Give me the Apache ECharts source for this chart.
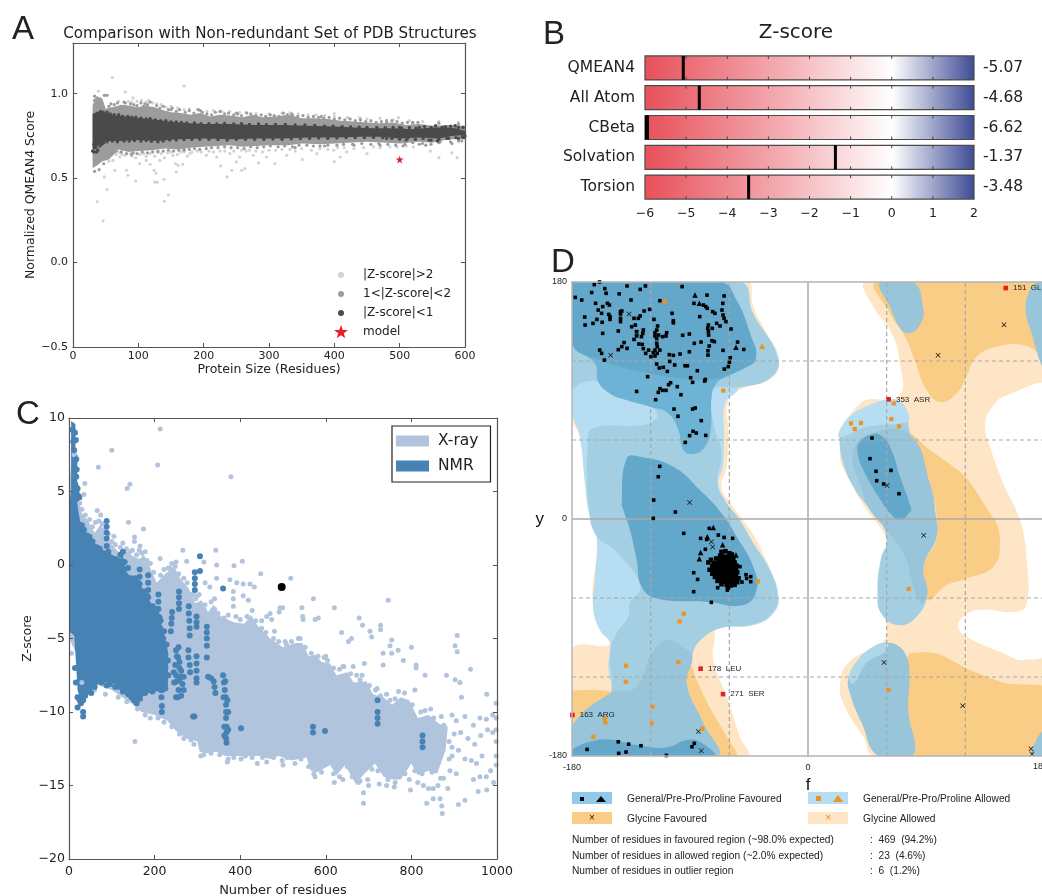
<!DOCTYPE html>
<html><head><meta charset="utf-8"><style>html,body{margin:0;padding:0;background:#fff;overflow:hidden}#c{width:1042px;height:896px}</style>
<script src="https://cdn.jsdelivr.net/npm/echarts@6/dist/echarts.min.js"></script></head><body><div id="c"></div>
<script>
// ---------- Panel A data ----------
const aLight=[[60,1.095],[170,1.045],[39,1.015],[80,1.01],[92,.975],[46,.247],[37,.36],[140,.363],[146,.4],[52,.432],[48,.507],[96,.483],[82,.546],[84,.517],[125,.477],[129,.475],[139.5,.493],[118,.582],[124,.546],[127,.53],[158,.537],[161,.576],[157,.586],[168,.582],[226,.572],[236,.507],[243,.546],[258,.546],[263,.556],[250,.596],[284,.59],[309,.586],[351,.61],[400,.598],[409,.625],[560,.621],[580,.649],[588,.621],[547,.66],[498,.858],[400,.882],[332,.886],[424,.852],[439,.858],[64,.546],[61,.605],[71.5,.625],[102,.586],[112,.605],[133,.605],[153,.635],[179,.645],[204,.635],[220,.625],[255,.625],[276,.635],[296,.625],[327,.635],[373,.645],[399,.665],[419,.655],[450,.645],[496,.684],[521,.684],[75,.64],[90,.63],[108,.645],[125,.63],[145,.65],[170,.655],[190,.66],[215,.655],[240,.645],[265,.66],[290,.655],[310,.665],[340,.66],[365,.665],[390,.67],[430,.675],[470,.68],[55,.6],[68,.66],[105,.96],[122,.945],[85,.955],[135,.935],[160,.915],[190,.905],[228,.895],[265,.89],[300,.88],[360,.875],[385,.87],[470,.855],[515,.84],[560,.835],[590,.83],
[66,.64],[72,.65],[80,.635],[88,.645],[96,.62],[102,.64],[112,.63],[118,.645],[135,.645],[140,.62],[150,.655],[160,.64],[165,.655],[175,.63],[182,.655],[196,.655],[208,.66],[225,.66],[232,.66],[246,.66],[258,.665],[270,.665],[280,.66],[300,.665],[320,.67],[332,.67],[350,.675],[378,.675],[405,.68],[415,.68],[445,.68],[460,.685],[485,.685],[510,.69],
[70,.955],[90,.95],[98,.955],[112,.95],[116,.96],[128,.94],[142,.92],[150,.925],[170,.905],[178,.91],[205,.895],[215,.9],[240,.895],[255,.89],[280,.885],[320,.885],[345,.88],[372,.875],[400,.865],[420,.86],[450,.85],[490,.845],[535,.835]];
const aMid=[[33,.54],[36,.6],[40,.55],[44,.62],[47,.585],[52,.66],[33,.985],[37,.975],[48,.99],[52,.99],[41,.97],[530,.70],[540,.695],[560,.71],[580,.705],[595,.72],[505,.69],[470,.695],[430,.695],[385,.69],[340,.68],[590,.82],[560,.825],[520,.83],[480,.84],[440,.845],[380,.865],[335,.88],[250,.885],[195,.9],[150,.905],[110,.94],[80,.945],[35,.64],[45,.655],[60,.65],[90,.64],[130,.655],[170,.665],
[33,.96],[38,.94],[43,.95],[55,.925],[58,.94],[63,.935],[68,.945],[73,.925],[78,.95],[88,.94],[93,.935],[98,.93],[104,.945],[108,.925],[114,.935],[118,.95],[128,.93],[133,.915],[138,.925],[146,.905],[152,.915],[158,.895],[163,.905],[172,.89],[178,.9],[185,.885],[192,.905],[198,.89],[205,.88],[212,.875],[218,.89],[225,.895],[232,.88],[238,.885],[246,.875],[252,.88],[258,.87],[266,.885],[272,.88],[280,.87],[288,.875],[295,.865],[302,.875],[308,.87],[315,.865],[322,.885],[328,.875],[336,.87],[344,.865],[352,.87],[360,.86],[368,.865],[376,.86],[384,.855],[392,.86],[400,.85],[408,.855],[416,.845],[424,.85],[432,.84],[440,.845],[448,.835],[456,.84],[464,.83],[472,.835],[480,.83],[488,.84],[496,.835],[504,.825],[512,.83],[520,.825],[528,.83],
[36,.59],[42,.62],[48,.63],[58,.64],[66,.66],[74,.655],[82,.645],[92,.65],[98,.645],[106,.655],[114,.65],[122,.655],[130,.66],[138,.66],[146,.665],[154,.66],[162,.665],[170,.67],[178,.67],[186,.675],[194,.67],[204,.675],[212,.68],[222,.68],[232,.685],[242,.68],[252,.68],[262,.675],[272,.685],[282,.68],[292,.685],[302,.69],[314,.685],[324,.69],[336,.685],[346,.695],[358,.695],[368,.69],[378,.69],[390,.695],[404,.695],[414,.7],[428,.7],[442,.705],[456,.7],[468,.705],[482,.7],[494,.695],[508,.7],[520,.71],[535,.705],[548,.7],[562,.715],[578,.715],[590,.72]];
const aDark=[[30,.66],[32,.7],[35,.68],[38,.665],[41,.69],[44,.7],[47,.71],[33,.75],[37,.725],[42,.72],[32,.655],[36,.655],[545,.725],[560,.73],[575,.735],[590,.735],[598,.74],[510,.725],[480,.735],[555,.81],[570,.805],[585,.81],[597,.8],[530,.8],[500,.8],
[33,.875],[37,.885],[42,.895],[46,.89],[52,.89],[57,.88],[63,.875],[70,.875],[76,.865],[84,.865],[90,.86],[96,.86],[104,.855],[112,.85],[118,.852],[126,.845],[134,.84],[142,.84],[150,.833],[158,.832],[166,.83],[174,.826],[186,.826],[196,.822],[208,.822],[220,.82],[232,.823],[246,.82],[258,.822],[270,.818],[284,.82],[296,.816],[310,.818],[325,.818],[340,.815],[355,.815],[370,.812],[385,.808],[398,.808],[412,.805],[425,.803],[438,.802],[450,.8],[465,.8],[478,.798],[490,.8],[503,.795],[515,.798],[525,.795],[538,.805],[548,.8],[565,.8],[578,.808],[590,.8],
[33,.71],[39,.705],[45,.715],[52,.715],[60,.72],[68,.715],[78,.72],[86,.72],[94,.722],[104,.72],[112,.722],[120,.718],[130,.715],[138,.72],[148,.725],[158,.725],[170,.728],[182,.73],[194,.73],[208,.73],[222,.728],[236,.725],[250,.73],[264,.73],[278,.73],[292,.73],[306,.732],[320,.73],[334,.733],[348,.735],[362,.735],[376,.737],[390,.735],[404,.738],[418,.74],[432,.74],[446,.74],[460,.742],[474,.74],[488,.735],[500,.73],[512,.735],[524,.73],[536,.735],[548,.725],[558,.72],[572,.735],[586,.74],[596,.745],[600,.75]];
const aMidUpper=[[30,.93],[35,.98],[45,.97],[50,.91],[60,.92],[75,.935],[85,.93],[100,.92],[110,.93],[125,.92],[140,.9],[150,.89],[165,.885],[180,.875],[195,.885],[210,.865],[225,.875],[240,.87],[260,.86],[275,.875],[290,.86],[310,.865],[330,.875],[350,.855],[370,.855],[390,.85],[410,.84],[430,.835],[450,.83],[470,.825],[490,.83],[510,.815],[530,.82],[550,.81],[575,.815],[600,.81]];
const aMidLower=[[600,.73],[575,.73],[550,.71],[530,.715],[500,.705],[480,.71],[450,.715],[420,.71],[400,.705],[380,.70],[350,.705],[330,.695],[300,.695],[280,.69],[260,.685],[240,.695],[220,.69],[200,.685],[180,.68],[160,.67],[140,.675],[120,.665],[100,.66],[85,.655],[70,.67],[55,.61],[45,.60],[35,.57],[30,.56]];
const aDarkUpper=[[30,.88],[40,.89],[50,.885],[60,.875],[80,.865],[100,.855],[120,.848],[140,.838],[160,.83],[180,.825],[200,.82],[240,.82],[280,.815],[320,.815],[360,.81],[400,.805],[430,.80],[460,.795],[490,.795],[520,.79],[550,.80],[580,.80],[600,.78]];
const aDarkLower=[[600,.755],[580,.75],[560,.735],[530,.74],[500,.735],[470,.745],[440,.745],[400,.74],[360,.74],[320,.735],[280,.735],[240,.73],[200,.735],[160,.73],[130,.72],[100,.725],[70,.72],[50,.72],[40,.70],[30,.66]];
const aModel=[[500,.61]];
const aNames=['|Z-score|>2','1<|Z-score|<2','|Z-score|<1','model'];
// ---------- Panel B data ----------
const bCategories=['QMEAN4','All Atom','CBeta','Solvation','Torsion'];
const bScores=[-5.07,-4.68,-6.62,-1.37,-3.48];
const bScoreLabels=['-5.07','-4.68','-6.62','-1.37','-3.48'];
// ---------- Panel C data ----------
const cXrayCloud=[[0,5],[8,8],[15,6.5],[22,4.5],[30,3.5],[45,3],[60,2.2],[75,2.8],[85,1.8],[100,1.4],[115,.9],[130,1],[150,.6],[165,.4],[175,.7],[190,-.2],[205,-1.2],[225,-.6],[245,-.1],[262,-1],[280,-1.6],[295,-2.6],[310,-2.4],[325,-3.2],[338,-2.7],[355,-3.5],[385,-3.9],[410,-4],[425,-3.4],[440,-4.1],[470,-5],[500,-5.6],[530,-5.3],[545,-5.3],[560,-6.2],[575,-6.1],[590,-6.6],[610,-6.7],[625,-7.5],[650,-7.3],[665,-8],[695,-7.9],[710,-8.8],[735,-9],[755,-9.5],[775,-9],[795,-9.2],[815,-10.4],[840,-10.2],[865,-10.8],[885,-11],[880,-12.6],[860,-14.2],[840,-14],[815,-14.3],[800,-13.5],[775,-14.6],[755,-14.6],[735,-14.4],[715,-13.5],[690,-14.2],[670,-14.9],[645,-13.6],[625,-14.3],[610,-13.6],[580,-14.1],[565,-14],[555,-13.1],[520,-13.3],[490,-13],[470,-13.2],[445,-13],[420,-13],[395,-13],[365,-13],[345,-12.7],[320,-12.8],[305,-12.7],[300,-12],[275,-11.8],[250,-11.3],[230,-10.6],[200,-10.2],[170,-10],[150,-9.5],[100,-8.5],[50,-8],[0,-5]];
const cNmrCloud=[[5,9.8],[15,9.6],[15,7.6],[20,7.5],[19,5.7],[24,5.3],[25,4.5],[20,4],[26,3],[40,2.2],[60,1.5],[80,1],[100,.7],[120,.4],[125,.7],[135,-.5],[150,-1],[170,-1.5],[190,-2.5],[210,-3.5],[225,-5],[232,-6],[231,-8.3],[200,-8.4],[170,-9],[160,-9.2],[130,-8.5],[100,-8],[70,-8],[55,-8.5],[40,-8.6],[30,-9.5],[20,-8.5],[15,-6],[12,-4.8],[0,-4.5],[0,4],[5,5]];
const cXrayPoints=[[213,9.25],[100,7.8],[207,6.8],[68.5,6.65],[378.5,6],[37,5.55],[142.5,5.5],[136,5.2],[35,4.8],[66,3.7],[139,2.9],[174,2.45],[105,1.95],[153,1.9],[153,1.6],[166,1.3],[213,.45],[266,1],[343,1],[405,.25],[385.5,-.05],[345,0],[315,.2],[275,.25],[448,-.6],[518,-.9],[318,-1.2],[345,-.9],[376,-1],[392,-1.2],[407,-1.3],[423,-1.3],[433,-1.5],[329,-1.5],[384,-1.8],[384,-2.3],[384,-2.8],[407,-2.1],[419,-2.4],[571,-2.3],[620,-2.9],[746,-2.4],[544,-2.9],[547,-3.7],[575,-3.7],[493,-2.9],[499,-2.9],[470,-3.3],[462,-3.5],[473.5,-3.7],[491,-3.2],[546,-3.5],[582.5,-3.6],[678,-3.6],[686,-4.1],[728,-4.1],[728,-4.4],[703,-4.5],[707,-4.9],[637,-4.6],[653,-5.2],[660,-5],[754,-5.1],[750,-5.5],[769,-5.8],[800,-5.6],[907,-4.8],[902,-5.5],[907,-5.9],[734,-6],[754,-6],[781,-6.5],[811,-6.8],[811,-7],[938,-7.1],[882,-7.5],[832,-7.5],[902,-7.8],[913.5,-8],[976,-8.8],[917,-9],[808,-8.5],[154,-12],[690,-6.7],[734,-6.8],[664,-6.9],[688,-16.2],[688,-15.5],[676,-14.8],[742,-15],[798,-15.3],[828,-15],[836,-16.2],[851,-15.9],[872,-16.9],[871,-16.4],[867,-15.9],[851,-15.2],[910,-16.3],[925,-16],[956,-15.4],[976,-15.3],[992,-14.8],
[895,-10.2],[905,-10.6],[925,-10.3],[945,-10.9],[960,-10.4],[975,-10.5],[990,-10.2],[998,-9.4],[998,-10.4],[998,-11.2],[998,-12],[998,-13],[998,-13.6],[990,-11.4],[978,-11.2],[962,-11.6],[948,-12.2],[932,-11.8],[915,-11.4],[900,-11.5],[888,-12],[895,-13],[910,-12.6],[925,-13.2],[940,-13.3],[952,-13.5],[965,-13],[975,-14.4],[985,-14],[960,-14.4],[945,-14.6],[905,-14.2],[890,-14],[875,-14.5],[885,-15.2],[862,-15],[840,-15.2],[815,-14.8],[795,-14.6],[760,-15.1],[725,-14.9],[700,-15],[640,-14.6],[620,-14.8],[575,-14.4],[440,-13.5],[370,-13.4],[500,-13.6],
[540,-5],[505,-5.2],[480,-4.5],[450,-3.8],[600,-6.2],[640,-6.9],[685,-7.5],[720,-8.4],[770,-8.6],[845,-9.8],[870,-10.3],[250,.2],[235,-.2],[290,-2],[300,-2.1],[340,-2.3],
[12,7.5],[16,6],[25,4.2],[30,3.8],[38,3.4],[48,3.1],[55,2.6],[62,2.9],[70,3],[74,3.4],[78,2.8],[82,2.4],[92,2.1],[100,1.6],[108,1.4],[120,1.2],[126,1.5],[134,1.1],[142,.9],[148,1],[158,.7],[164,1],[170,.8],[178,.9],[182,.3],[190,.1],[198,-.5],[214,-.7],[222,-.3],[232,-.2],[240,.1],[248,-.1],[256,-.6],[268,-.9],[276,-1.2],[288,-2],[296,-2.3],[304,-2],[318,-2.7],[332,-2.5],[340,-3],[348,-3.3],[362,-3.6],[372,-3.4],[390,-3.5],[400,-3.7],[416,-3.5],[428,-3.1],[436,-3.8],[450,-4.3],[460,-4.6],[478,-5],[490,-5.2],[508,-5.4],[520,-5.2],[536,-5],[552,-5.6],[566,-6],[582,-6.2],[596,-6.3],[604,-6.5],[618,-7],[632,-7.1],[642,-6.9],[658,-7.4],[672,-7.5],[680,-7.8],[702,-8.2],[716,-8.5],[728,-8.9],[742,-8.8],[750,-9.2],[762,-9.1],[784,-8.7],[802,-9.5],[822,-10],[832,-9.9],[852,-10.4],[876,-10.9],
[6,-6],[30,-8],[60,-8.5],[85,-8.8],[115,-9],[135,-9.3],[160,-9.8],[178,-10.2],[190,-10.4],[208,-10.4],[222,-10.7],[240,-11],[258,-11.5],[268,-11.8],[285,-11.9],[292,-12.2],[308,-13],[315,-12.9],[332,-12.8],[352,-12.9],[372,-13.2],[385,-13.1],[402,-13.2],[412,-13],[428,-13.1],[452,-13.1],[462,-13.4],[478,-13.1],[498,-13.3],[510,-13.1],[528,-13.5],[542,-13.2],[560,-13.7],[572,-14.2],[590,-14.1],[602,-13.5],[618,-14.2],[632,-14.4],[650,-13.7],[662,-14.4],[680,-14.7],[698,-14.6],[708,-13.9],[722,-14],[745,-14.6],[762,-14.8],[785,-14.2],[808,-14],[825,-14.2],[848,-14.1],[868,-14.5],[888,-13.2],[895,-12.4]];
const cNmrPoints=[[88,3],[88,2.6],[88,2.2],[88,1.8],[88,1.3],[165,-.3],[165,-.8],[165,-1.3],[165,-1.8],[185,-.7],[185,-1.2],[185,-1.7],[185,-2.2],[209,-2],[209,-2.5],[209,-3],[209,-3.5],[209,-4],[241,-3.2],[240,-3.6],[239,-4],[238,-4.5],[257,-1.8],[257,-2.2],[257,-2.6],[257,-3],[294,-.5],[294,-.9],[294,-1.3],[294,-1.7],[280,-2.8],[280,-3.3],[281,-3.8],[282,-4.3],[282,-4.8],[298,-3.5],[298,-3.9],[298,-4.2],[322,-4.2],[322,-4.6],[322,-5],[322,-5.5],[322,-6.3],[250,-5.8],[255,-6.3],[248,-6.8],[258,-7],[245,-7.3],[262,-7.6],[252,-7.9],[265,-8.1],[256,-8.5],[262,-8.9],[250,-9],[279,-5.8],[279,-6.3],[282,-6.8],[283,-7.3],[298,-6.2],[298,-6.7],[298,-7.2],[298,-7.7],[298,-8],[325,-7.6],[332,-7.7],[338,-7.9],[340,-8.3],[342,-8.7],[360,-7.5],[362,-8],[364,-8.5],[366,-9],[367,-9.5],[367,-10],[367,-10.4],[368,-11],[368,-11.4],[367,-11.8],[368,-12.1],[290,-10.3],[293,-10.3],[402,-11.1],[570,-11],[570,-11.4],[598,-11.3],[721,-10],[721,-10.4],[721,-10.8],[721,-9.2],[826,-11.6],[826,-12],[826,-12.4],[360,-1.6],[216,-4.5],[216,-5.5],[216,-7],[216,-8],[216,-9],[217,-9.6],[217,-10],[33,-10],[33,-10.3],[20,-9.7],[306,.6],[306,-.4],
[252,-6.2],[258,-6.6],[262,-7.2],[250,-7.5],[258,-7.8],[268,-7.6],[246,-8],[268,-8.5],[254,-9],[256,-5.6],[207,-3],[212,-3.6],[213,-4.3],[220,-5],[225,-7],[218,-8.5],[361,-9],[370,-9.2],[372,-10],[372,-11.2],[363,-11],[363,-11.6],[365,-7.9],
[8,9.2],[10,8.4],[12,7.8],[14,9],[16,8.5],[17,7.2],[18,6.5],[17,6],[14,5.5],[20,5.2],[22,4.7],[24,4.6],[30,2.7],[35,2.4],[42,2],[48,1.9],[55,1.6],[65,1.2],[72,1.1],[85,.8],[92,.9],[98,.5],[108,.4],[114,.3],[120,.7],[126,.9],[130,.2],[138,-.2],[145,-.9],[155,-.9],[162,-1.2],[175,-1.8],[182,-2.1],[196,-2.8],[204,-3.3],[214,-3.8],[222,-4.5],[228,-5.4],[231,-6.5],[232,-7.5],
[14,-7],[16,-8],[20,-9],[25,-9.2],[28,-9.4],[33,-9.2],[38,-8.9],[46,-8.6],[52,-8.7],[60,-8.3],[66,-7.9],[76,-8],[88,-8.2],[96,-8.1],[108,-8.3],[118,-8.3],[126,-8.6],[138,-8.8],[146,-9],[152,-9.2],[158,-9.4],[166,-9.1],[178,-8.7],[186,-8.5],[195,-8.6],[205,-8.4],[215,-8.5],[225,-8.4]];
const cModel=[[497,-1.5]];
// ---------- Panel D data (phi, psi outlines of the Ramachandran regions) ----------
const rGlyAllowedLeft=[[-46.8,180],[-41.7,161],[-31.5,141],[-22.4,123],[-26.5,108],[-52,98],[-60.8,90.4],[-60.8,62.5],[-62,39.7],[-66,24.5],[-59,11.9],[-50.6,.5],[-36.6,-21],[-22.6,-59],[-26.5,-71.7],[-41.7,-80.6],[-69.7,-83],[-71,-90.7],[-72.2,-107],[-62,-135],[-51.9,-165.4],[-46.8,-180],[-180,-180],[-180,-99.5],[-151,-94.5],[-163.7,-69],[-161,-13.5],[-167.5,6.8],[-170,27],[-174,62],[-180,82.8]];
const rGlyFavLeftA=[[-180,-131],[-151,-131],[-140,-160],[-180,-165]];
const rGlyFavLeftB=[[-90,-110],[-85,-122],[-75,-143],[-62,-165],[-54,-180],[-75,-180],[-95,-125]];
const rAllowedMain=[[-51.9,180],[-41.7,156],[-22.6,122],[-29,106.8],[-52,100],[-54.4,96.7],[-63.3,87.8],[-64,62.5],[-65,39.7],[-68.4,27],[-62,11.9],[-53,.5],[-41.7,-18.5],[-29,-38.8],[-22.6,-59],[-26.5,-71.7],[-41.7,-80.6],[-67.1,-83],[-82.4,-92],[-88,-102],[-90,-112],[-93,-125],[-80,-155],[-70,-180],[-180,-180],[-180,-157.8],[-166.3,-145.1],[-151,-133.7],[-152.3,-112.2],[-151,-94.5],[-158.6,-84.4],[-163.7,-69.2],[-162.5,-43.8],[-161.2,-13.5],[-167.5,6.8],[-170,27],[-174,62.5],[-180,82.8],[-180,180]];
const rMidMain=[[-180,180],[-52,180],[-42,156],[-23,122],[-29,107],[-52,100],[-72,99],[-74,90],[-72,72],[-66,50],[-69,27],[-62,12],[-53,.5],[-42,-18],[-29,-39],[-23,-59],[-27,-71],[-42,-80],[-67,-83],[-82,-92],[-88,-102],[-90,-112],[-93,-125],[-80,-155],[-70,-180],[-180,-180],[-180,-158],[-166,-145],[-151,-134],[-151,-100],[-146,-87],[-137,-74],[-136,-64],[-128,-51],[-147,-24],[-161,-13.5],[-167,6.8],[-168,57],[-164,69],[-128,71],[-117,75],[-115,80],[-120,85],[-138,90],[-151,95],[-160,104],[-171,104],[-180,100.5]];
const rMidLower=[[-151,-132.5],[-130.7,-127.4],[-119.2,-102],[-107.8,-92],[-92.5,-99.5],[-88,-104.6],[-92.5,-124.9],[-80,-155],[-70,-180],[-180,-180],[-180,-157.8]];
const rFavTopWide=[[-180,180],[-67,180],[-54.4,166],[-44.3,141],[-39.7,122],[-46.8,115.7],[-59.5,109.3],[-69.7,103],[-73.5,92.9],[-74.2,67.6],[-78.6,54.9],[-87.5,49.3],[-95.1,52.4],[-98.9,67.6],[-106.5,80.2],[-120.5,85.3],[-138.3,90.4],[-151,95.4],[-160,104.3],[-162.5,118],[-180,133.4]];
const rFavTopCore=[[-180,180],[-67,180],[-54.4,166],[-44.3,141],[-39.7,122],[-50,114],[-75,106],[-98,107],[-128,112],[-159,120.7],[-180,133.4]];
const rFavHelix=[[-138.3,46],[-128,47.3],[-102.7,39.7],[-82.4,22],[-65.9,4.3],[-54.4,-13.5],[-41.7,-36.2],[-39.2,-54],[-49.3,-65.4],[-77.3,-62.8],[-115.4,-60.3],[-126.9,-51.4],[-130.7,-31.2],[-135.8,-8.4],[-140.8,6.8],[-142.1,11.9]];
const rFavBottom=[[-180,-180],[-180,-175.5],[-166.3,-169.2],[-151,-167.4],[-130.7,-171.7],[-107.8,-173.5],[-92.5,-167.9],[-82.4,-169.2],[-72.2,-180]];
const rGlyAllowedRight=[[44.8,180],[184,180],[184,-180],[51,-180],[42.2,-165.4],[28.2,-142.6],[24.4,-124.9],[32,-108],[57.5,-93],[60,-79],[63,-45],[60,-16],[44.8,6.8],[34.6,24],[24.4,52],[40,88],[69.2,93],[69.7,120.7],[62.6,143.5],[49.9,161]];
const rEmptyRight=[[135,70],[139,83],[151.5,94],[184,98],[184,-99],[164,-107],[149,-102],[121,-89.4],[114.7,-83],[116,-76.8],[128.7,-69.2],[159.2,-70.4],[166.8,-64.1],[166.8,-31.2],[161.7,-1],[149,27],[138.8,54.9]];
const rGlyFavTop=[[52.9,180],[62.6,156],[74,138.5],[80.4,123.3],[90.5,98],[100.7,89],[113.4,95.4],[120.5,108],[128.7,123.3],[143.9,130.9],[164.2,132.1],[184,125],[184,180]];
const rGlyFavMiddle=[[78.3,63.8],[93,52.4],[110.9,39.7],[121,30.9],[141.4,.5],[143.9,-3.3],[146.5,-18.5],[141.4,-36.2],[121,-45.1],[105.8,-50.2],[91,-61.6],[88,-36.2],[98,-13.5],[93,27]];
const rGlyFavBottom=[[76.5,-103.3],[98,-102],[121,-113.5],[151.5,-124.9],[184,-128.7],[184,-180],[79.8,-180],[76.5,-145]];
const rBlueCornerTop=[[175.7,180],[169.3,174],[166,159],[170.6,141],[178.5,116],[184,110],[184,180]];
const rBlueTop=[[55,180],[62.6,161],[71.5,143.5],[79,141.5],[86.7,149.9],[88,158.7],[80.4,180]];
const rLeftCluster=[[61.5,90.4],[51,88],[34.6,80],[25.7,70],[24,60],[27,42],[34.6,24.5],[46,9],[53.7,.5],[60,-16],[55.4,-31],[53,-56.5],[56,-72],[69,-80.6],[83,-74],[91,-56.5],[88,-36],[98,-13.5],[97,6.8],[93,27],[78.3,64],[74,85],[68,90]];
const rLeftCap=[[61.5,90.4],[51,88],[34.6,80],[25.7,70],[24,62],[45,70],[70,72.6],[77,75],[74,85],[68,90]];
const rLeftInner=[[34.6,52.4],[52.4,66.3],[78.3,63.8],[93,27],[97.4,.5],[98,-13.5],[88,-36.2],[91,-56.5],[86,-64],[78.3,-43.8],[74,-28.6],[60,-8.4],[47.3,6.8],[41,22]];
const rLeftCore=[[48.6,64.3],[39.7,58.7],[37.7,51],[42.2,37.2],[53.7,17],[65.1,1.7],[71.5,-.8],[77.8,5.5],[79,6.8],[70.2,32],[62.6,54.9],[55,63.8]];
const rLowerCluster=[[60,-94],[49.9,-97],[38.4,-107],[30.8,-121],[32,-132.5],[41,-155],[53.7,-180],[79.8,-180],[76.5,-145],[77.3,-114.7],[74,-102],[67.7,-95.7]];
const rLowerCap=[[60,-94],[50,-97],[38,-107],[31,-121],[34.6,-125],[45,-109],[60,-100]];
const rBlueCornerBottom=[[178.5,-161.6],[173,-170.4],[170.6,-180],[184,-180],[184,-160]];
const ramaDashPhi=[-120,-60,60,120];
const ramaDashPsi=[120,60,-60,-120];
const ramaSolid=[0];
const dFavSquares=[[-163,178],[-159,180],[-155,175],[-138,177],[-128,174.4],[-124,177],[-96,176.5],[-165,172],[-154,171.4],[-144,171],[-177.5,168.3],[-172.6,166.3],[-135,166.3],[-113,165.8],[-77,170],[-64,169.4],[-87,163.8],[-65,163.8],[-162,163.8],[-153,163.8],[-151.5,162.5],[-156.6,161.3],[-160,158.7],[-157.4,156.2],[-143,157.5],[-142,158],[-143,155.7],[-125,158],[-120.8,159.2],[-103.7,156.2],[-152,155.4],[-151,153.7],[-151,151.6],[-170.3,153.4],[-161,151.6],[-164,148.6],[-170,147.3],[-157,149.4],[-143,152.4],[-143,149.9],[-132.7,152.4],[-129.4,152.4],[-128,154.2],[-117.5,151.6],[-102.7,150.6],[-102.7,149],[-114.7,146.6],[-134.5,146],[-131.7,147.3],[-115.4,143.5],[-144.7,142.8],[-156.6,141],[-130.7,142.3],[-125.6,143.5],[-126,141],[-116.7,141.5],[-107.8,141.5],[-95.6,139.5],[-90.5,140.5],[-130.7,139],[-127,138.5],[-116.7,139],[-114,139.7],[-110.9,138.5],[-108.3,139],[-132.7,136.4],[-115.4,137],[-140.3,134],[-86.7,133.4],[-81.6,134.4],[-73.2,135.4],[-71.4,134.7],[-129,132.9],[-126.4,132.6],[-115.4,133.4],[-142,130.9],[-138,129.6],[-125.6,129.4],[-115,130.9],[-75.3,131.4],[-53.7,134.4],[-158.9,128.3],[-144.7,128.6],[-121.5,128.3],[-116.7,128.3],[-113,128.3],[-64.8,128.1],[-49,128.8],[-90.5,127],[-76.3,127.8],[-76.3,124.5],[-157.4,125.8],[-123.8,125.8],[-118,126.3],[-115,125.8],[-119.8,123.3],[-116.7,123.8],[-105.8,124.8],[-102.7,124.3],[-97.6,125.3],[-155.3,120.7],[-59.3,122.5],[-60,119],[-60.8,115.7],[-115.4,117.7],[-105.5,119.7],[-101.7,117],[-93.8,116.4],[-92,116.4],[-113.4,114.7],[-110.4,115.2],[-107.3,112.1],[-84.4,112.6],[-63.8,113.9],[-122.3,108.1],[-89.5,107.3],[-78.3,106],[-78.8,104.8],[-88,103.8],[-104.8,103.5],[-106.3,102],[-99.7,100.5],[-112.9,99],[-110.9,97.7],[-108.3,97.7],[-114.2,96.2],[-130.7,96.9],[-96.9,94.4],[-116.2,90.6],[-102.2,83.5],[-88,83.5],[-86,84.3],[-99.2,78],[-81.4,74.7],[-87.7,66.6],[-85.2,65.3],[-78,63.5],[-90.3,63.3],[-93.6,58.2],[-113.1,40],[-114.2,32.1],[-117.7,14.4],[-101.2,5.3],[-118,.5],
[-79.8,162.5],[-78,161.3],[-76.8,160],[-72.7,157.5],[-71,156.2],[-65.6,158.7],[-64.8,154.9],[-64,152.4],[-62.6,149.9],[-69.7,148.6],[-67.1,146.6],[-82.6,153.7],[-76,147.3],[-73,144.8],[-76.5,144.8],[-76,142.3],[-75.8,139.7],[-58.7,144.3],
[-94.8,-10.9],[-75.3,-7.1],[-68.4,-12.2],[-64,-14],[-57.5,-14.7],[-81.9,-14.7],[-77.3,-15.5],[-78.3,-23],[-87.2,-40.8],[-84.2,-45.9],[-87.2,-55.2],[-73.7,-63.3],[-68.9,-52.2],[-61.5,-54],[-50.4,-47.9],[-47.3,-42.3],[-46.8,-45.1],[-43.7,-43.8],[-43.7,-47.6],[-51.9,-36.2],
[-168.5,-175],[-144.7,-169.2],[-136.8,-171],[-127.4,-172.2],[-144.4,-178],[-138.8,-177],[-108,-179.6],[-88.5,-173],[-86.7,-170.4],
[48.8,61.5],[47.3,45.8],[51.9,36.2],[52.4,29.1],[63.3,36.9],[57.7,26.6],[69.4,19.2]];
const dHelixCluster=[[-66,-25],[-63,-24.5],[-60,-26],[-58,-27],[-67,-28],[-64,-28.5],[-61,-29],[-57,-30],[-70,-30],[-74,-31],[-68,-31.5],[-65,-32],[-62,-32],[-59,-32.5],[-56,-33],[-76,-33],[-72,-33.5],[-69,-34],[-66,-34.5],[-63,-35],[-60,-35],[-57,-35.5],[-54.5,-35.5],[-73,-36],[-70,-36.5],[-67,-37],[-64,-37],[-61,-37.5],[-58,-38],[-55,-38],[-75,-38.5],[-72,-39],[-69,-39.5],[-66,-39.5],[-63,-40],[-60,-40],[-57,-40.5],[-54,-40.5],[-73,-41.5],[-70,-42],[-67,-42],[-64,-42.5],[-61,-42.5],[-58,-43],[-55,-43],[-71,-44],[-68,-44.5],[-65,-45],[-62,-45],[-59,-45],[-56,-45.5],[-53,-45],[-69,-47],[-66,-47],[-63,-47.5],[-60,-47.5],[-57,-48],[-54,-48],[-66,-49.5],[-62,-50],[-59,-50.5],[-56,-50],[-61,-52],[-65,-30],[-62,-30.5],[-59,-29.5],[-67,-33],[-64,-33.5],[-61,-34],[-58,-34],[-68,-38],[-65,-38],[-62,-38.5],[-59,-39],[-56,-39],[-70,-40.5],[-66,-41],[-63,-41.5],[-60,-42],[-57,-42],[-65,-43.5],[-62,-44],[-59,-43.5],[-63,-46],[-60,-46],[-57,-46.5],[-61,-49],[-58,-49]];
const dFavTriangles=[[-86.2,170.1],[-82.9,163.8],[-54.9,130.4],[-72.2,-6.4],[-76.8,-13.5],[-65.1,-19.5],[-81.9,-25.4],[-82.9,-30.2],[-54.9,-27.4]];
const dGlyCrosses=[[-136.5,155.7],[-130.7,141.5],[-150.5,124.3],[-90.3,12.6],[-73.7,-17.2],[-72.7,-21.3],[-83.6,-161.3],[-81.4,-176],[60.3,25.5],[99.2,124.3],[149.5,147.6],[88.2,-12.4],[58,-109],[118,-141.8],[170.1,-174.5],[170.8,-178.5]];
const dAllowedSquares=[[-64.6,97.5],[-38.2,-47.4],[-94.8,-72],[-97.9,-77.8],[-138.8,-111.4],[-139,-123.6],[-98.9,-108.7],[-118.5,-142.6],[-119.2,-155.2],[-154.8,-151.5],[-154.6,-154.5],[-163.7,-165.4],[-80.6,-159.3],[32.8,72.6],[40.4,72.9],[35.6,68.3],[63.6,75.9],[69.4,70.4],[65.4,87.8],[76.8,-53],[61.5,-129.7]];
const dAllowedTriangles=[[-109,166],[-35,131.4]];
const dOutliers=[[150.8,175.4,'151  GLU'],[61.5,90.9,'353  ASR'],[-81.9,-113.7,'178  LEU'],[-64.8,-133,'271  SER'],[-179.7,-148.9,'163  ARG']];
const dLegendLeft=['General/Pre-Pro/Proline Favoured','Glycine Favoured'];
const dLegendRight=['General/Pre-Pro/Proline Allowed','Glycine Allowed'];
const dStatNames=['Number of residues in favoured region (~98.0% expected)','Number of residues in allowed region (~2.0% expected)','Number of residues in outlier region'];
const dStatValues=[':  469  (94.2%)',':  23  (4.6%)',':  6  (1.2%)'];

// ---------- helpers ----------
const SANS='"DejaVu Sans"', TXT='#222', LINE='#555';
const STAR='path://M5 0L6.18 3.45L9.76 3.45L6.9 5.6L7.94 9.05L5 7L2.06 9.05L3.1 5.6L.24 3.45L3.82 3.45Z';
const CROSS='path://M1 0L5 4L9 0L10 1L6 5L10 9L9 10L5 6L1 10L0 9L4 5L0 1Z';
const dot=r=>`path://M0 0M14 14M${7-r} 7a${r} ${r} 0 1 0 ${2*r} 0a${r} ${r} 0 1 0 ${-2*r} 0z`;
const fmt=d=>v=>(d?v.toFixed(d):String(v)).replace('-','\u2212');
const xAxes=[],yAxes=[],series=[];
function cart(grid,xo,yo,col){
  const base={gridIndex:grid,type:'value',z:5,splitLine:{show:false},
    axisLine:{show:true,onZero:false,lineStyle:{color:col||LINE,width:col?1.5:1.2}},
    axisTick:{show:true,inside:true,length:4,lineStyle:{color:col||LINE}},
    axisLabel:{show:true,color:TXT,fontFamily:SANS,fontSize:11,margin:5,hideOverlap:false}};
  const merge=(a,b)=>Object.assign({},a,b,{axisLabel:Object.assign({},a.axisLabel,b.axisLabel||{}),axisTick:Object.assign({},a.axisTick,b.axisTick||{})});
  xAxes.push(merge(base,xo)); const xi=xAxes.length-1;
  xAxes.push(merge(base,Object.assign({},xo,{position:'top',name:'',axisLabel:{show:false}})));
  yAxes.push(merge(base,yo)); const yi=yAxes.length-1;
  yAxes.push(merge(base,Object.assign({},yo,{position:'right',name:'',axisLabel:{show:false}})));
  return [xi,yi];
}
function area(name,pts,fill,ax,smooth){
  series.push({type:'custom',name,xAxisIndex:ax[0],yAxisIndex:ax[1],clip:true,silent:true,data:pts,encode:{x:0,y:1},
    itemStyle:{color:fill},
    renderItem(p,api){ if(p.dataIndex!==0) return null;
      return {type:'polygon',shape:{points:pts.map(q=>api.coord(q)),smooth:smooth||0},style:{fill}}; }});
}
function dots(name,pts,color,size,ax,symbol,extra){
  series.push(Object.assign({type:'scatter',name,xAxisIndex:ax[0],yAxisIndex:ax[1],data:pts,symbol:symbol||'circle',symbolSize:size,
    itemStyle:{color,opacity:1},silent:true,clip:true,large:false},extra||{}));
}

// ---------- Panel A ----------
const axA=cart(0,{min:0,max:600,interval:100,name:'Protein Size (Residues)',nameLocation:'middle',nameGap:16,nameTextStyle:{color:TXT,fontFamily:SANS,fontSize:12.5},axisLabel:{margin:4}},
  {min:-.5,max:1.3,interval:.5,name:'Normalized QMEAN4 Score',nameLocation:'middle',nameGap:31,nameTextStyle:{color:TXT,fontFamily:SANS,fontSize:12.5},axisLabel:{formatter:fmt(1),showMaxLabel:false}});
dots(aNames[0],aLight,'#d2d2d2',3.2,axA);
area(aNames[1],aMidUpper.concat(aMidLower),'#9c9c9c',axA);
dots(aNames[1],aMid,'#9c9c9c',3.2,axA);
area(aNames[2],aDarkUpper.concat(aDarkLower),'#4a4a4a',axA);
dots(aNames[2],aDark,'#4a4a4a',3.4,axA);
dots(aNames[3],aModel,'#e5202a',8,axA,STAR);

// ---------- Panel B ----------
const xiB=xAxes.length;
xAxes.push({gridIndex:1,type:'value',min:-6,max:2,interval:1,z:5,splitLine:{show:false},axisLine:{show:false},axisTick:{show:false},
  axisLabel:{color:TXT,fontFamily:SANS,fontSize:12.5,margin:5,formatter:fmt(0)}});
const yiB=yAxes.length;
yAxes.push({gridIndex:1,type:'category',inverse:true,data:bCategories,axisLine:{show:false},axisTick:{show:false},
  axisLabel:{color:TXT,fontFamily:SANS,fontSize:15.5,margin:10}});
yAxes.push({gridIndex:1,type:'category',inverse:true,position:'right',data:bScoreLabels,axisLine:{show:false},axisTick:{show:false},
  axisLabel:{color:TXT,fontFamily:SANS,fontSize:15.5,margin:9}});
series.push({type:'custom',name:'Z-score',xAxisIndex:xiB,yAxisIndex:yiB,clip:false,silent:true,
  data:bScores.map((v,i)=>[v,i]),encode:{x:0,y:1},
  renderItem(p,api){
    const yc=api.coord([0,api.value(1)])[1], h=24, t=yc-h/2;
    const x0=api.coord([-6,0])[0], x1=api.coord([2,0])[0];
    const raw=api.value(0), mx=api.coord([Math.max(raw,-6),0])[0];
    const kids=[{type:'rect',shape:{x:x0,y:t,width:x1-x0,height:h},
      style:{fill:new echarts.graphic.LinearGradient(0,0,1,0,[{offset:0,color:'#e8505a'},{offset:.375,color:'#f2a3a9'},{offset:.75,color:'#ffffff'},{offset:1,color:'#3d4b95'}]),stroke:'#4a4a4a',lineWidth:1.2}}];
    for(let k=-5;k<=1;k++){const x=api.coord([k,0])[0];
      kids.push({type:'line',shape:{x1:x,y1:t,x2:x,y2:t+3},style:{stroke:'#444',lineWidth:1}});
      kids.push({type:'line',shape:{x1:x,y1:t+h-3,x2:x,y2:t+h},style:{stroke:'#444',lineWidth:1}});}
    kids.push({type:'rect',shape:{x:raw< -6?x0:mx-1.5,y:t,width:raw< -6?4:3,height:h},style:{fill:'#000'}});
    return {type:'group',children:kids};
  }});

// ---------- Panel C ----------
const axC=cart(2,{min:0,max:1000,interval:200,name:'Number of residues',nameLocation:'middle',nameGap:25,nameTextStyle:{color:TXT,fontFamily:SANS,fontSize:13},axisLabel:{fontSize:12.5,margin:6,formatter:fmt(0)}},
  {min:-20,max:10,interval:5,name:'Z-score',nameLocation:'middle',nameGap:35,nameTextStyle:{color:TXT,fontFamily:SANS,fontSize:12.5},axisLabel:{fontSize:12.5,margin:4,formatter:fmt(0)}});
area('X-ray',cXrayCloud,'#b0c4de',axC);
dots('X-ray',cXrayPoints,'#b0c4de',5,axC);
area('NMR',cNmrCloud,'#4682b4',axC);
dots('NMR',cNmrPoints,'#4682b4',6,axC);
dots('model',cModel,'#000',8,axC);

// ---------- Panel D ----------
const axD=cart(3,{min:-180,max:180,interval:180,name:'f',nameLocation:'middle',nameGap:10,nameTextStyle:{color:'#111',fontFamily:'"Liberation Sans"',fontSize:17},axisTick:{show:false},axisLabel:{fontFamily:'"Liberation Sans"',fontSize:9,margin:7,showMaxLabel:false}},
  {min:-180,max:180,interval:180,name:'y',nameRotate:0,nameLocation:'middle',nameGap:10,nameTextStyle:{color:'#111',fontFamily:'"Liberation Sans"',fontSize:17},axisTick:{show:false},axisLabel:{fontFamily:'"Liberation Sans"',fontSize:9,margin:5}},'#b4b4b4');
const PEACH='#fde5c6',ORANGE='#f9cd86',LB='#b6ddf1',MID='#a4cfe3',MID2='#98c5da',D1='#6db3d5',D0='#63a8cb';
const S=.45;
area('ga',rGlyAllowedLeft,PEACH,axD,S);
area('ga',rGlyAllowedRight,PEACH,axD,S);
area('empty',rEmptyRight,'#ffffff',axD,S);
area('gf',rGlyFavLeftA,ORANGE,axD,.1);
area('gf',rGlyFavLeftB,ORANGE,axD,.2);
area('gf',rGlyFavTop,ORANGE,axD,S);
area('gf',rGlyFavMiddle,ORANGE,axD,S);
area('gf',rGlyFavBottom,ORANGE,axD,.2);
area('al',rAllowedMain,LB,axD,S);
area('mid',rMidMain,MID,axD,S);
area('mid',rMidLower,MID2,axD,S);
area('fav',rFavTopWide,D1,axD,S);
area('fav',rFavTopCore,D0,axD,S);
area('fav',rFavHelix,D0,axD,S);
area('fav',rFavBottom,D0,axD,S);
area('mid',rBlueCornerTop,MID2,axD,S);
area('mid',rBlueTop,MID2,axD,S);
area('mid',rLeftCluster,MID,axD,S);
area('al',rLeftCap,LB,axD,S);
area('mid',rLeftInner,MID2,axD,S);
area('fav',rLeftCore,D0,axD,S);
area('mid',rLowerCluster,MID2,axD,S);
area('al',rLowerCap,'#aed7ea',axD,S);
area('mid',rBlueCornerBottom,MID2,axD,S);
const guides=[];
ramaDashPhi.forEach(v=>guides.push([v,-180,v,180,1]));
ramaDashPsi.forEach(v=>guides.push([-180,v,180,v,1]));
ramaSolid.forEach(v=>{guides.push([v,-180,v,180,0]);guides.push([-180,v,180,v,0]);});
series.push({type:'custom',name:'grid',xAxisIndex:axD[0],yAxisIndex:axD[1],clip:true,silent:true,data:guides,encode:{x:[0,2],y:[1,3]},
  renderItem(p,api){const a=api.coord([api.value(0),api.value(1)]),b=api.coord([api.value(2),api.value(3)]);const dash=api.value(4)===1;
    return {type:'line',shape:{x1:a[0],y1:a[1],x2:b[0],y2:b[1]},style:{stroke:dash?'#a8a8a8':'#aaaaaa',lineWidth:dash?1.2:1.5,lineDash:dash?[4,3]:null}};}});
dots('fs',dFavSquares,'#000',3.6,axD,'rect');
dots('fs',dHelixCluster,'#000',4.6,axD,'rect');
dots('ft',dFavTriangles,'#000',5.5,axD,'triangle');
dots('gc',dGlyCrosses,'#111',5,axD,CROSS);
dots('as',dAllowedSquares,'#f0921e',4.2,axD,'rect');
dots('at',dAllowedTriangles,'#f0921e',6,axD,'triangle');
dots('out',dOutliers,'#e3202a',4.6,axD,'rect',{clip:false,encode:{x:0,y:1},label:{show:true,position:'right',distance:5,fontFamily:'"Liberation Sans"',fontSize:8,color:'#222',formatter:p=>p.value[2]}});

// ---------- graphic text / legend of D ----------
const graphic=[];
const letter=(t,x,y)=>graphic.push({type:'text',left:x,top:y,silent:true,style:{text:t,font:'33px "Liberation Sans"',fill:'#222'}});
letter('A',12,13);letter('B',543,18);letter('C',16,398);letter('D',551,246);
const patch=(x,y,fill)=>graphic.push({type:'rect',shape:{x,y,width:40,height:12},silent:true,style:{fill}});
const gText=(t,x,y,size)=>graphic.push({type:'text',x,y,silent:true,style:{text:t,font:`${size||10.2}px "Liberation Sans"`,fill:'#222',textVerticalAlign:'middle'}});
patch(572,792,'#8fcbe8');patch(808,792,LB);patch(572,812,ORANGE);patch(808,812,PEACH);
gText(dLegendLeft[0],627,799);gText(dLegendLeft[1],627,819);gText(dLegendRight[0],863,799);gText(dLegendRight[1],863,819);
graphic.push({type:'rect',silent:true,shape:{x:580,y:797,width:4,height:4},style:{fill:'#000'}});
graphic.push({type:'polygon',silent:true,shape:{points:[[601,796],[606,802],[596,802]]},style:{fill:'#000'}});
graphic.push({type:'rect',silent:true,shape:{x:816,y:796,width:5,height:5},style:{fill:'#f0921e'}});
graphic.push({type:'polygon',silent:true,shape:{points:[[838,795],[843,802],[833,802]]},style:{fill:'#f0921e'}});
gText('\u00d7',589,818,10);
graphic.push({type:'text',x:825,y:818,silent:true,style:{text:'\u00d7',font:'11px "Liberation Sans"',fill:'#f0921e',textVerticalAlign:'middle'}});
gText('180',1033,767,9);
dStatNames.forEach((t,i)=>{const y=840+i*15.7;gText(t,572,y);gText(dStatValues[i],870,y);});

const chart=echarts.init(document.getElementById('c'),null,{renderer:'canvas',width:1042,height:896});
chart.setOption({
  animation:false,backgroundColor:'#fff',
  title:[
    {text:'Comparison with Non-redundant Set of PDB Structures',left:265,top:22,textAlign:'center',textStyle:{fontFamily:SANS,fontSize:15.1,fontWeight:'normal',color:'#222'}},
    {text:'Z-score',left:791,top:18,textAlign:'center',textStyle:{fontFamily:SANS,fontSize:20,fontWeight:'normal',color:'#222'}}
  ],
  grid:[
    {left:73,top:43,width:392,height:304,outerBoundsMode:'none'},
    {left:645,top:53,width:329,height:149,outerBoundsMode:'none'},
    {left:69,top:418,width:428,height:441,outerBoundsMode:'none'},
    {left:572,top:282,width:472,height:474,outerBoundsMode:'none'}
  ],
  xAxis:xAxes,yAxis:yAxes,series,graphic,
  legend:[
    {left:334,top:268,orient:'vertical',itemWidth:14,itemHeight:14,itemGap:5,selectedMode:false,padding:0,
     textStyle:{fontFamily:SANS,fontSize:12,color:'#222',padding:[0,0,0,10]},
     data:[{name:aNames[0],icon:dot(3),itemStyle:{color:'#d2d2d2'}},{name:aNames[1],icon:dot(3),itemStyle:{color:'#9c9c9c'}},{name:aNames[2],icon:dot(3),itemStyle:{color:'#4a4a4a'}},{name:aNames[3],icon:STAR,itemStyle:{color:'#e5202a'}}]},
    {left:392,top:426,orient:'vertical',itemWidth:33,itemHeight:11,itemGap:9,selectedMode:false,padding:[7,12,8,4],
     backgroundColor:'#fff',borderColor:'#222',borderWidth:1.2,z:20,
     textStyle:{fontFamily:SANS,fontSize:15.5,color:'#222',padding:[0,0,0,4]},
     data:[{name:'X-ray',icon:'rect',itemStyle:{color:'#b0c4de'}},{name:'NMR',icon:'rect',itemStyle:{color:'#4682b4'}}]}
  ]
});
</script></body></html>
